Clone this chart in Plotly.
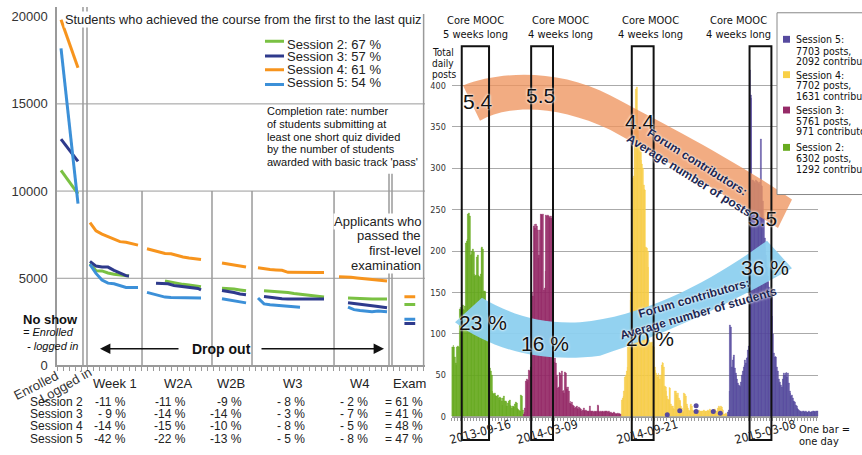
import plotly.graph_objects as go

W, H = 862, 455
FONT = "Liberation Sans, Arial, sans-serif"
NARROW = "Liberation Sans Narrow, Arial Narrow, DejaVu Sans Condensed, Liberation Sans, sans-serif"


def PX(x):
    return x / W


def PY(y):
    return 1 - y / H


# ===================== LEFT PANEL DATA =====================
sessions = ["Session 2", "Session 3", "Session 4", "Session 5"]
completion_rate = ["67 %", "57 %", "61 %", "54 %"]
line_colors = ["#7ac143", "#2e3a8c", "#f7941d", "#3c90d8"]

# quiz positions along the left x axis (one tick = one step)
x_enrol = [0.67, 3.5]
x_w1 = [5.5, 6.5, 7.5, 8.5, 9.5, 10.5, 11.5, 12.5, 13.5]
x_w1_short = [5.5, 6.5, 7.5, 8.5, 9.5, 10.5, 11.5, 12.0]
x_w2a = [15, 16, 17, 18, 19, 20, 21, 22, 23, 24]
x_w2a_s2 = [18, 19, 20, 21, 22, 23, 24]
x_w2a_s3 = [16.5, 17.5, 18.5, 19.5, 20.5, 21.5, 22.5, 23.5, 24]
x_w2b = [27.5, 28.5, 29.5, 30.5, 31.5]
x_w3 = [33.5, 34.5, 35.5, 36.5, 37.5, 38.5, 39.5, 40.5, 41.5, 42.5, 43.5, 44.5]
x_w3_late = [34.5, 35.5, 36.5, 37.5, 38.5, 39.5, 40.5, 41.5, 42.5, 43.5, 44.5]
x_w3_s5 = [33.5, 34.5, 35.5, 36.5, 37.5, 38.5, 39.5, 40.5]
x_w4 = [47, 48, 49, 50, 51, 52, 53, 54, 55]
x_w4_late = [48.5, 49.5, 50.5, 51.5, 52.5, 53.5, 54.5, 55]
x_exam = [57.9, 59.7]

# number of students (Enrolled/Logged in, Week1, W2A, W2B, W3, W4, Exam)
s2_students = [[11190, 9840],
               [5850, 5430, 5420, 5300, 5230, 5180, 5150, 5130],
               [4850, 4780, 4720, 4650, 4620, 4580, 4520],
               [4430, 4420, 4380, 4330, 4280],
               [4280, 4260, 4250, 4220, 4180, 4130, 4090, 4040, 4000, 3970, 3930],
               [3870, 3850, 3820, 3810, 3810, 3810, 3810, 3810],
               [3490, 3490]]
s2_xpos = [x_enrol, x_w1_short, x_w2a_s2, x_w2b, x_w3_late, x_w4_late, x_exam]

s3_students = [[12980, 11700],
               [5970, 5700, 5650, 5640, 5450, 5300, 5150, 5130],
               [4720, 4720, 4680, 4590, 4540, 4490, 4450, 4420, 4340],
               [4300, 4250, 4180, 4100, 4050],
               [3960, 3900, 3850, 3820, 3810, 3810, 3810, 3810, 3810, 3810, 3810],
               [3590, 3540, 3480, 3450, 3420, 3380, 3340, 3310],
               [2410, 2410]]
s3_xpos = [x_enrol, x_w1_short, x_w2a_s3, x_w2b, x_w3_late, x_w4_late, x_exam]

s4_students = [[19830, 17070],
               [8190, 7720, 7530, 7400, 7250, 7100, 7060, 6960, 6900],
               [6690, 6600, 6500, 6420, 6400, 6300, 6220, 6160, 6120, 6070],
               [5880, 5830, 5780, 5720, 5650],
               [5600, 5540, 5500, 5480, 5460, 5340, 5330, 5330, 5330, 5330, 5330, 5330],
               [5090, 5090, 5060, 5020, 4990, 4950, 4900, 4860, 4840],
               [3940, 3940]]
s4_xpos = [x_enrol, x_w1, x_w2a, x_w2b, x_w3, x_w4, x_exam]

s5_students = [[18180, 9280],
               [5800, 5280, 4900, 4720, 4680, 4560, 4470, 4470, 4470],
               [4190, 4100, 4020, 3920, 3900, 3900, 3900, 3880, 3870, 3870],
               [3830, 3780, 3720, 3650, 3590],
               [3870, 3530, 3480, 3460, 3430, 3400, 3360, 3340],
               [3340, 3200, 3150, 3100, 3080, 3120, 3100, 3080],
               [2650, 2650]]
s5_xpos = [x_enrol, x_w1, x_w2a, x_w2b, x_w3_s5, x_w4_late, x_exam]

left_yticks = [0, 5000, 10000, 15000, 20000]
stage_labels = ["Week 1", "W2A", "W2B", "W3", "W4", "Exam"]
drop_s2 = ["-11 %", "-11 %", "-9 %", "- 8 %", "- 2 %", "= 61 %"]
drop_s3 = ["- 9 %", "-14 %", "-14 %", "- 3 %", "- 7 %", "= 41 %"]
drop_s4 = ["-14 %", "-15 %", "-10 %", "- 8 %", "- 5 %", "= 48 %"]
drop_s5 = ["-42 %", "-22 %", "-13 %", "- 5 %", "- 8 %", "= 47 %"]

# ===================== RIGHT PANEL DATA =====================
s2_posts = [84, 84, 86, 84, 72, 64, 62, 84, 85, 84,
            130, 132, 128, 131, 135, 130, 128, 133, 210, 212,
            214, 244, 246, 242, 195, 196, 200, 202, 198, 172,
            170, 171, 193, 195, 171, 170, 168, 172, 203, 204,
            202, 151, 152, 150, 128, 125, 120, 100, 64, 58,
            55, 50, 30, 28, 27, 28, 26, 25, 24, 26,
            22, 20, 23, 22, 18, 14, 22, 24, 19, 18,
            17, 13, 16, 19, 20, 14, 12, 10, 12, 13,
            11, 15, 17, 16, 10, 9, 8, 7, 6, 26,
            25, 8]
s3_posts = [3, 5, 10, 43, 45, 42, 44, 56, 55, 60,
            147, 150, 145, 230, 232, 228, 232, 230, 225, 191,
            195, 225, 244, 245, 243, 244, 153, 155, 175, 243,
            242, 243, 242, 241, 240, 242, 240, 238, 68, 66,
            70, 65, 48, 50, 34, 36, 53, 52, 50, 55,
            30, 32, 28, 53, 52, 35, 33, 36, 30, 16,
            18, 15, 17, 14, 11, 12, 10, 11, 13, 10,
            9, 11, 10, 8, 9, 7, 8, 10, 8, 7,
            8, 6, 7, 5, 6, 12, 6, 5, 7, 6,
            5, 6, 7, 5, 6, 14, 13, 6, 5, 6,
            5, 7, 6, 5, 6, 5, 6, 7, 5, 6,
            5, 4, 5, 4, 3, 4, 5, 4, 3, 4,
            3, 4, 3, 4, 3, 3]
s4_posts = [20, 22, 25, 30, 48, 50, 55, 60, 84, 90,
            120, 140, 150, 210, 288, 290, 330, 360, 395, 398,
            370, 350, 335, 325, 320, 310, 305, 300, 280, 275,
            274, 205, 203, 200, 180, 92, 90, 88, 88, 90,
            85, 84, 60, 56, 52, 50, 48, 52, 50, 45,
            50, 62, 66, 64, 60, 37, 35, 30, 25, 21,
            20, 36, 34, 15, 13, 12, 10, 9, 31, 30,
            28, 26, 28, 22, 20, 18, 12, 10, 5, 6,
            28, 27, 25, 15, 13, 10, 8, 7, 14, 15,
            12, 8, 6, 5, 6, 7, 6, 5, 7, 8,
            6, 7, 5, 6, 7, 8, 6, 5, 7, 6,
            8, 7, 6, 9, 8, 7, 6, 5, 7, 9,
            8, 6, 7, 10, 12, 11, 10, 12, 11, 9,
            8, 3, 3, 4, 3, 2]
s5_posts = [5, 8, 30, 110, 108, 60, 68, 72, 74, 58,
            52, 50, 45, 40, 38, 37, 36, 42, 50, 55,
            60, 62, 68, 65, 70, 72, 80, 85, 418, 388,
            385, 285, 286, 284, 283, 282, 285, 284, 283, 282,
            281, 283, 335, 280, 278, 260, 240, 215, 205, 195,
            180, 170, 162, 156, 152, 150, 147, 121, 100, 76,
            72, 73, 72, 60, 55, 45, 40, 42, 38, 36,
            45, 50, 52, 50, 52, 53, 48, 52, 40, 30,
            28, 25, 26, 22, 19, 18, 17, 14, 12, 10,
            9, 8, 6, 5, 6, 5, 7, 6, 5, 5,
            6, 5, 4, 5, 6, 5, 5, 6, 5, 6,
            7, 6, 5, 7, 6, 7]
s5_early_days = [276, 292, 313, 313, 335, 344]
s5_early_posts = [2, 7, 13, 6, 6, 4]

bar_colors = ["#67ab1f", "#962a68", "#f9d046", "#564a9f"]
session_first_day = [0, 92, 218, 354]
core_start_day = [13, 102, 231, 382]
core_length_days = [35, 28, 28, 28]
core_start_dates = ["2013-09-16", "2014-03-09", "2014-09-21", "2015-03-08"]
core_titles = ["Core MOOC<br>5 weeks long", "Core MOOC<br>4 weeks long",
               "Core MOOC<br>4 weeks long", "Core MOOC<br>4 weeks long"]
right_yticks = [0, 50, 100, 150, 200, 250, 300, 350, 400]
avg_posts = ["5.4", "5.5", "4.4", "3.5"]
contrib_share = ["23 %", "16 %", "20 %", "36 %"]
legend_names = ["Session 5:", "Session 4:", "Session 3:", "Session 2:"]
legend_posts = ["7703 posts,", "7702 posts,", "5761 posts,", "6302 posts,"]
legend_contrib = ["2092 contributors", "1631 contributors", "971 contributors", "1292 contributors"]

# ===================== FIGURE =====================
fig = go.Figure()


def joined(xlists, ylists):
    xs, ys = [], []
    for xl, yl in zip(xlists, ylists):
        xs += list(xl) + [None]
        ys += list(yl) + [None]
    return xs, ys


left_series = [(s2_xpos, s2_students), (s3_xpos, s3_students),
               (s4_xpos, s4_students), (s5_xpos, s5_students)]
for i, (xl, yl) in enumerate(left_series):
    xs, ys = joined(xl, yl)
    fig.add_trace(go.Scatter(x=xs, y=ys, mode="lines", name=sessions[i],
                             line=dict(color=line_colors[i], width=3),
                             connectgaps=False, xaxis="x", yaxis="y",
                             showlegend=False, hoverinfo="skip"))

post_series = [s2_posts, s3_posts, s4_posts, s5_posts]
for i, vals in enumerate(post_series):
    days = list(range(session_first_day[i], session_first_day[i] + len(vals)))
    fig.add_trace(go.Bar(x=days, y=vals, name=sessions[i], xaxis="x2", yaxis="y2",
                         marker=dict(color=bar_colors[i],
                                     line=dict(color=bar_colors[i], width=0.4)),
                         width=1.0, showlegend=False, hoverinfo="skip"))
fig.add_trace(go.Scatter(x=s5_early_days, y=s5_early_posts, mode="markers",
                         xaxis="x2", yaxis="y2",
                         marker=dict(color=bar_colors[3], size=5),
                         showlegend=False, hoverinfo="skip"))

shapes = []
annotations = []


def ann(x, y, text, size=13, family=FONT, color="#222", xanchor="center",
        yanchor="middle", **kw):
    d = dict(x=x, y=y, xref="paper", yref="paper", text=text, showarrow=False,
             font=dict(size=size, family=family, color=color),
             xanchor=xanchor, yanchor=yanchor)
    d.update(kw)
    annotations.append(d)


GRAY = "#9a9a9a"
# ---- left panel structure ----
for g in [5000, 10000, 15000]:
    shapes.append(dict(type="line", xref="x", yref="y", x0=0, x1=61.33, y0=g, y1=g,
                       line=dict(color=GRAY, width=1), layer="below"))
for sx in [4.33, 5.0]:
    shapes.append(dict(type="line", xref="x", yref="y", x0=sx, x1=sx, y0=0, y1=20600,
                       line=dict(color=GRAY, width=1.5), layer="below"))
for sx in [14.17, 25.83, 32.5, 46.17]:
    shapes.append(dict(type="line", xref="x", yref="y", x0=sx, x1=sx, y0=0, y1=10000,
                       line=dict(color=GRAY, width=1.5), layer="below"))
for sx in [55.33, 55.83]:
    shapes.append(dict(type="line", xref="x", yref="y", x0=sx, x1=sx, y0=0, y1=11000,
                       line=dict(color=GRAY, width=1.5), layer="below"))
shapes.append(dict(type="line", xref="x", yref="y", x0=61.1, x1=61.1, y0=0, y1=20150,
                   line=dict(color=GRAY, width=1.5), layer="below"))

# left legend
leg_line_y = [42, 57, 71, 86]
leg_text_y = [45, 58, 71, 84]
for i in range(4):
    shapes.append(dict(type="line", xref="paper", yref="paper",
                       x0=PX(265), x1=PX(284), y0=PY(leg_line_y[i]), y1=PY(leg_line_y[i]),
                       line=dict(color=line_colors[i], width=3)))
    ann(PX(285), PY(leg_text_y[i]), f"{sessions[i]}: {completion_rate[i]}", size=13,
        xanchor="left")

ann(PX(64), PY(20), "Students who achieved the course from the first to the last quiz",
    size=12.8, xanchor="left", bgcolor="white", borderpad=0)

comp_lines = ["Completion rate: number", "of students submitting at",
              "least one short quiz divided", "by the number of students",
              "awarded with basic track 'pass'"]
for k, t in enumerate(comp_lines):
    ann(PX(265), PY(113 + 13 * k), t, size=11, xanchor="left", color="#111")

for k, t in enumerate(["Applicants who", "passed the", "first-level", "examination"]):
    ann(PX(422), PY(225 + 15 * k), t, size=13, xanchor="right", bgcolor="white",
        borderpad=0)

ann(PX(50), PY(325), "<b>No show</b>", size=13, color="#111")
ann(PX(48), PY(338), "<i>= Enrolled</i>", size=11, color="#111")
ann(PX(52), PY(352), "<i>- logged in</i>", size=11, color="#111")

ann(PX(222), PY(355), "<b>Drop out</b>", size=14, color="#111")
annotations.append(dict(x=PX(100), y=PY(355), xref="paper", yref="paper", text="",
                        showarrow=True, ax=80, ay=0, arrowhead=2, arrowsize=1.3,
                        arrowwidth=1.6, arrowcolor="#111"))
annotations.append(dict(x=PX(384), y=PY(355), xref="paper", yref="paper", text="",
                        showarrow=True, ax=-124, ay=0, arrowhead=2, arrowsize=1.3,
                        arrowwidth=1.6, arrowcolor="#111"))

ann(PX(36), PY(392), "Enrolled", size=13, textangle=-27, color="#333")
ann(PX(65), PY(392), "Logged in", size=13, textangle=-30, color="#333")
stage_center_px = [115, 178, 231, 293, 360, 409]
for lab, cx in zip(stage_labels, stage_center_px):
    ann(PX(cx), PY(390), lab, size=13, color="#222")

row_y = [409, 421.5, 433.5, 446.5]
col_right_px = [128, 188, 244, 307, 370, 425]
for r, rows in enumerate([drop_s2, drop_s3, drop_s4, drop_s5]):
    ann(PX(56), PY(row_y[r]), sessions[r], size=12, color="#222")
    for c, t in enumerate(rows):
        ann(PX(col_right_px[c]), PY(row_y[r]), t, size=12, xanchor="right", color="#222")

# ---- right panel ----
orange_band = [(463, 87), "C", (500, 72), (560, 70), (610, 97), "C", (660, 124), (730, 160),
               (792, 203), "L", (778, 232), "C", (720, 195), (660, 160), (610, 132), "C",
               (560, 108), (510, 105), (480, 123), "Z"]
blue_band = [(482, 303), "C", (510, 320), (540, 330), (580, 328), "C", (650, 322), (720, 280),
             (767, 245), "L", (792, 273), "C", (745, 300), (680, 335), (600, 362), "C",
             (540, 370), (490, 355), (455, 328), "Z"]


def path_of(items):
    s = "M"
    for it in items:
        if isinstance(it, str):
            s += f" {it}"
        else:
            s += f" {PX(it[0]):.5f},{PY(it[1]):.5f}"
    return s


shapes.append(dict(type="path", xref="paper", yref="paper", path=path_of(orange_band),
                   fillcolor="#ee955f", opacity=0.78, line=dict(width=0)))
shapes.append(dict(type="path", xref="paper", yref="paper", path=path_of(blue_band),
                   fillcolor="#8dd0ef", opacity=0.95, line=dict(width=0)))

for i in range(4):
    x0 = core_start_day[i] - 0.5
    x1 = core_start_day[i] + core_length_days[i] - 0.5
    shapes.append(dict(type="rect", xref="x2", yref="y2", x0=x0, x1=x1, y0=-28.5, y1=447.5,
                       line=dict(color="#111", width=2), fillcolor="rgba(0,0,0,0)"))
    ann((x0 + x1) / 2, PY(440), core_start_dates[i], size=12, family=NARROW,
        textangle=-15, color="#222", xshift=5)
    annotations[-1]["xref"] = "x2"

title_px = [476, 560, 650, 738]
for i in range(4):
    ann(PX(title_px[i]), PY(28), core_titles[i], size=11, family=NARROW, color="#111")

for k, t in enumerate(["Total", "daily", "posts"]):
    ann(PX(430), PY(53 + 11.5 * k), t, size=10, family=NARROW, xanchor="left", color="#111")
ann(PX(797), PY(437), "One bar =", size=11, family=NARROW, xanchor="left", color="#111")
ann(PX(797), PY(449), "one day", size=11, family=NARROW, xanchor="left", color="#111")

# right legend
shapes.append(dict(type="rect", xref="paper", yref="paper", x0=PX(777), x1=PX(890),
                   y0=PY(198), y1=PY(13), line=dict(color="#888", width=1),
                   fillcolor="white"))
leg_y = [[40, 52, 62], [76, 87, 98], [112, 123, 133], [150, 161, 172]]
leg_cols = [bar_colors[3], bar_colors[2], bar_colors[1], bar_colors[0]]
for i in range(4):
    ya = leg_y[i]
    shapes.append(dict(type="rect", xref="paper", yref="paper", x0=PX(783), x1=PX(790),
                       y0=PY(ya[0] + 3.5), y1=PY(ya[0] - 3.5), line=dict(width=0),
                       fillcolor=leg_cols[i]))
    ann(PX(794), PY(ya[0]), legend_names[i], size=10.5, family=NARROW, xanchor="left", color="#111")
    ann(PX(794), PY(ya[1]), legend_posts[i], size=10.5, family=NARROW, xanchor="left", color="#111")
    ann(PX(794), PY(ya[2]), legend_contrib[i], size=10.5, family=NARROW, xanchor="left", color="#111")

halo = "0px 0px 2px white, 0px 0px 3px white"
posts_px = [(478, 103), (540, 97), (640, 124), (762, 222)]
share_px = [(483, 328), (545, 350), (650, 345), (765, 272)]
for i in range(4):
    ann(PX(posts_px[i][0]), PY(posts_px[i][1]), avg_posts[i], size=21, color="#111")
    annotations[-1]["font"]["shadow"] = halo
    ann(PX(share_px[i][0]), PY(share_px[i][1]), contrib_share[i], size=21, color="#111")
    annotations[-1]["font"]["shadow"] = halo

ann(PX(693), PY(172), "<b>Forum contributors:<br>Average number of posts</b>", size=12,
    color="#1c2752", textangle=32)
annotations[-1]["font"]["shadow"] = halo
ann(PX(696), PY(311), "<b>Forum contributors:<br>Average number of students</b>", size=12,
    color="#1c2752", textangle=-16)
annotations[-1]["font"]["shadow"] = halo

fig.update_layout(
    width=W, height=H, margin=dict(l=0, r=0, t=0, b=0),
    paper_bgcolor="white", plot_bgcolor="rgba(0,0,0,0)",
    font=dict(family=FONT, color="#222"),
    barmode="overlay", bargap=0,
    showlegend=False,
    xaxis=dict(domain=[PX(57), PX(425)], range=[0, 61.33], showgrid=False, zeroline=False,
               showline=True, linecolor=GRAY, linewidth=1.5, ticks="outside", tick0=0, dtick=1,
               ticklen=4, tickcolor=GRAY, showticklabels=False, fixedrange=True),
    yaxis=dict(domain=[PY(372), PY(7)], range=[0, 20563], showgrid=False, zeroline=False,
               showline=True, linecolor=GRAY, linewidth=1.5, tickvals=left_yticks,
               ticktext=[str(v) for v in left_yticks], ticks="outside", ticklen=5,
               tickcolor="rgba(0,0,0,0)", tickfont=dict(size=13, color="#333"),
               fixedrange=True),
    xaxis2=dict(domain=[PX(451.6), PX(818.2)], range=[-0.5, 469.5], anchor="free",
                position=PY(424), showgrid=False, zeroline=False, showline=True,
                linecolor=GRAY, ticks="outside", tick0=-0.5, dtick=4, ticklen=3,
                tickcolor=GRAY, showticklabels=False, fixedrange=True),
    yaxis2=dict(domain=[PY(450), PY(45)], range=[-30.9, 449.9], anchor="x2",
                tickvals=right_yticks, showgrid=True, gridcolor="#aaaaaa", gridwidth=1,
                zeroline=False, showline=False, ticks="outside", ticklen=3,
                tickcolor="rgba(0,0,0,0)", tickfont=dict(size=9, family=NARROW, color="#333"),
                fixedrange=True),
    shapes=shapes,
    annotations=annotations,
)

fig.write_html("out.html", config={"displayModeBar": False},
               post_script="document.body.style.margin='0';document.body.style.padding='0';document.body.style.overflow='hidden';")
